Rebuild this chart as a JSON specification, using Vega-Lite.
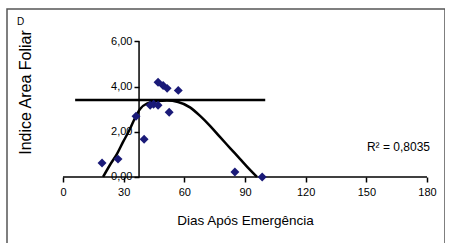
{
  "$schema": "https://vega.github.io/schema/vega-lite/v6.json",
  "width": 438,
  "height": 241,
  "autosize": {"type": "none"},
  "padding": {"left": 7, "top": 9, "right": 0, "bottom": 0},
  "background": "white",
  "config": {
    "view": {"stroke": "#555555", "strokeWidth": 1.5},
    "font": "Liberation Sans"
  },
  "datasets": {
    "pts": [
      {"dias": 19.3, "iaf": 0.62},
      {"dias": 27.2, "iaf": 0.79},
      {"dias": 36.1, "iaf": 2.69},
      {"dias": 40.1, "iaf": 1.67},
      {"dias": 43.1, "iaf": 3.17},
      {"dias": 44.8, "iaf": 3.22},
      {"dias": 47.0, "iaf": 3.17},
      {"dias": 47.0, "iaf": 4.19},
      {"dias": 49.5, "iaf": 4.05},
      {"dias": 51.5, "iaf": 3.92},
      {"dias": 52.5, "iaf": 2.86},
      {"dias": 57.0, "iaf": 3.83},
      {"dias": 85.0, "iaf": 0.22},
      {"dias": 98.5, "iaf": 0.0}
    ],
    "curve": [
      {"dias": 19.8, "iaf": 0.0},
      {"dias": 23.2, "iaf": 0.53},
      {"dias": 26.7, "iaf": 1.02},
      {"dias": 29.7, "iaf": 1.55},
      {"dias": 33.1, "iaf": 2.12},
      {"dias": 35.6, "iaf": 2.61},
      {"dias": 38.1, "iaf": 3.01},
      {"dias": 41.5, "iaf": 3.25},
      {"dias": 46.5, "iaf": 3.36},
      {"dias": 51.4, "iaf": 3.38},
      {"dias": 56.9, "iaf": 3.32},
      {"dias": 62.8, "iaf": 3.08},
      {"dias": 67.8, "iaf": 2.7},
      {"dias": 72.7, "iaf": 2.26},
      {"dias": 77.6, "iaf": 1.77},
      {"dias": 82.6, "iaf": 1.28},
      {"dias": 87.5, "iaf": 0.8},
      {"dias": 92.5, "iaf": 0.31},
      {"dias": 95.9, "iaf": 0.0}
    ],
    "rules": [
      {"x": 0, "x2": 180, "y": 0, "y2": 0, "w": 1.5},
      {"x": 37.6, "x2": 37.6, "y": 0, "y2": 6, "w": 1.5},
      {"x": 6, "x2": 100, "y": 3.4, "y2": 3.4, "w": 2.5}
    ],
    "labels": [
      {"x": 150.3, "y": 1.32, "t": "R² = 0,8035", "s": 12},
      {"x": -22.7, "y": 6.84, "t": "D", "s": 10}
    ]
  },
  "encoding": {
    "x": {
      "field": "dias",
      "type": "quantitative",
      "scale": {"domain": [-27.7, 188.9], "nice": false, "zero": false},
      "axis": {
        "values": [0, 30, 60, 90, 120, 150, 180],
        "offset": -73,
        "domain": false,
        "grid": false,
        "tickSize": 5,
        "tickColor": "black",
        "tickWidth": 1.5,
        "labelFontSize": 11,
        "labelColor": "black",
        "labelPadding": 4,
        "title": "Dias Após Emergência",
        "titleFontSize": 13.5,
        "titleFontWeight": "normal",
        "titleColor": "black",
        "titleX": 238,
        "titleY": 43,
        "titleBaseline": "middle"
      }
    },
    "y": {
      "field": "iaf",
      "type": "quantitative",
      "scale": {"domain": [-3.23, 7.43], "nice": false, "zero": false},
      "axis": {
        "values": [0, 2, 4, 6],
        "offset": -132,
        "domain": false,
        "grid": false,
        "tickSize": 5,
        "tickColor": "black",
        "tickWidth": 1.5,
        "labelFontSize": 11,
        "labelColor": "black",
        "labelPadding": 2,
        "labelExpr": "replace(format(datum.value, '.2f'), '.', ',')",
        "title": "Indice Area Foliar",
        "titleFontSize": 16,
        "titleFontWeight": "normal",
        "titleColor": "black",
        "titleAngle": -90,
        "titleX": -114,
        "titleY": 83,
        "titleAlign": "center",
        "titleBaseline": "middle"
      }
    }
  },
  "layer": [
    {
      "data": {"name": "rules"},
      "mark": {"type": "rule", "color": "black"},
      "encoding": {
        "x": {"field": "x", "type": "quantitative"},
        "x2": {"field": "x2"},
        "y": {"field": "y", "type": "quantitative"},
        "y2": {"field": "y2"},
        "strokeWidth": {"field": "w", "type": "quantitative", "scale": null}
      }
    },
    {
      "data": {"name": "curve"},
      "mark": {"type": "line", "color": "black", "strokeWidth": 2.5, "interpolate": "monotone"}
    },
    {
      "data": {"name": "pts"},
      "mark": {"type": "point", "shape": "diamond", "filled": true, "color": "#1a1a78", "size": 80, "opacity": 1}
    },
    {
      "data": {"name": "labels"},
      "mark": {"type": "text", "align": "left", "baseline": "middle", "color": "black"},
      "encoding": {
        "x": {"field": "x", "type": "quantitative"},
        "y": {"field": "y", "type": "quantitative"},
        "text": {"field": "t"},
        "size": {"field": "s", "type": "quantitative", "scale": null}
      }
    }
  ]
}
